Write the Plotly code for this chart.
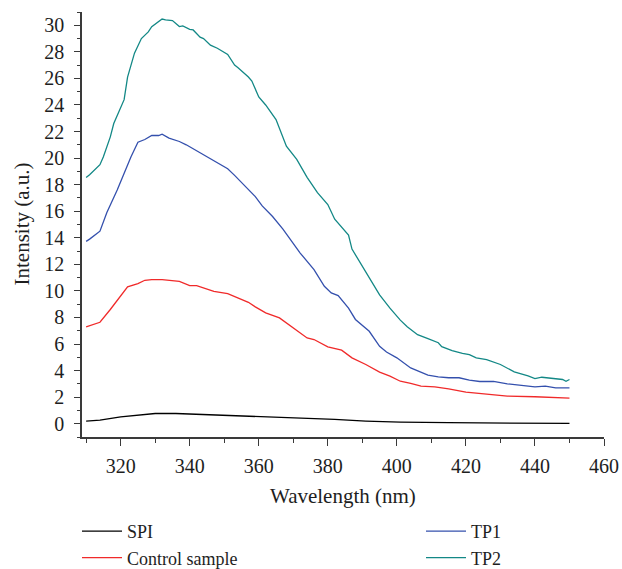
import plotly.graph_objects as go

# Wavelength (nm) and intensity (a.u.)
spi_x = [310, 314, 320, 326, 330, 336, 343, 353, 360, 370, 378, 382, 391, 401, 415, 430, 450]
spi_y = [0.20, 0.27, 0.52, 0.70, 0.77, 0.77, 0.70, 0.62, 0.57, 0.45, 0.37, 0.32, 0.20, 0.12, 0.08, 0.03, 0.02]

ctrl_x = [310, 314, 317, 320, 322, 325, 327, 329, 332, 337, 340, 342, 345, 347, 351, 354, 357, 359, 362, 366,
          370, 372, 374, 376, 380, 384, 387, 391, 395, 398, 401, 404, 407, 411, 415, 420, 426, 432, 440, 445, 450]
ctrl_y = [7.30, 7.64, 8.60, 9.60, 10.30, 10.55, 10.80, 10.85, 10.85, 10.72, 10.40, 10.40, 10.15, 9.97, 9.80,
          9.47, 9.14, 8.80, 8.35, 7.97, 7.20, 6.84, 6.46, 6.34, 5.79, 5.54, 4.96, 4.46, 3.88, 3.58, 3.20, 3.03,
          2.83, 2.78, 2.63, 2.38, 2.23, 2.08, 2.03, 1.98, 1.93]

tp1_x = [310, 311, 314, 316, 319, 321, 323, 325, 327, 329, 331, 332, 334, 337, 339, 343, 345, 348, 351, 353,
         356, 359, 361, 364, 367, 370, 372, 376, 379, 381, 383, 386, 388, 392, 395, 397, 400, 404, 406, 409,
         412, 415, 418, 421, 424, 428, 432, 436, 440, 443, 446, 450]
tp1_y = [13.73, 13.90, 14.50, 15.90, 17.60, 18.90, 20.10, 21.20, 21.40, 21.70, 21.70, 21.80, 21.50, 21.25,
         21.00, 20.40, 20.10, 19.60, 19.20, 18.70, 17.90, 17.10, 16.40, 15.60, 14.65, 13.60, 12.85, 11.60,
         10.35, 9.85, 9.65, 8.70, 7.85, 6.96, 5.83, 5.40, 4.96, 4.20, 3.96, 3.66, 3.53, 3.46, 3.46, 3.28,
         3.18, 3.18, 3.00, 2.88, 2.78, 2.83, 2.70, 2.70]

tp2_x = [310, 311, 314, 315, 317, 318, 321, 322, 324, 326, 328, 329, 332, 333, 335, 337, 338, 340, 341, 343,
         344, 346, 348, 351, 353, 354, 357, 358, 360, 362, 365, 368, 371, 374, 377, 380, 382, 386, 387, 390,
         393, 395, 398, 401, 403, 406, 409, 412, 413, 416, 419, 421, 423, 426, 430, 434, 438, 440, 442, 445,
         448, 449, 450]
tp2_y = [18.54, 18.74, 19.50, 20.10, 21.60, 22.60, 24.40, 26.10, 27.90, 29.00, 29.50, 29.90, 30.47, 30.40,
         30.35, 29.90, 29.95, 29.70, 29.65, 29.10, 29.00, 28.50, 28.27, 27.80, 27.00, 26.80, 26.10, 25.80,
         24.60, 24.00, 22.90, 20.90, 19.90, 18.55, 17.40, 16.50, 15.40, 14.20, 13.15, 11.85, 10.60, 9.70,
         8.70, 7.80, 7.30, 6.70, 6.40, 6.10, 5.80, 5.50, 5.30, 5.20, 4.96, 4.83, 4.46, 3.90, 3.60, 3.40,
         3.50, 3.40, 3.33, 3.20, 3.33]

series = [
    ("SPI", spi_x, spi_y, "#000000", "legend"),
    ("Control sample", ctrl_x, ctrl_y, "#f02a2a", "legend"),
    ("TP1", tp1_x, tp1_y, "#3450ad", "legend2"),
    ("TP2", tp2_x, tp2_y, "#138886", "legend2"),
]

x_ticks = [320, 340, 360, 380, 400, 420, 440, 460]
y_ticks = list(range(0, 31, 2))

FONT = "Liberation Serif"
AXIS_COLOR = "#3a3a3a"
TEXT_COLOR = "#1e1e1e"
TICK_FS = 20
TITLE_FS = 21
LEG_FS = 18

W, H = 622, 569
L, R, T, B = 82, 18, 12, 132
PLOT_W, PLOT_H = W - L - R, H - T - B

fig = go.Figure()
for name, xs, ys, color, leg in series:
    fig.add_trace(go.Scatter(x=xs, y=ys, mode="lines", name=name,
                             line=dict(color=color, width=1.3), legend=leg))

leg_common = dict(orientation="v", yanchor="top", xanchor="left", itemwidth=40,
                  font=dict(family=FONT, size=LEG_FS, color=TEXT_COLOR),
                  bgcolor="rgba(0,0,0,0)", traceorder="normal")

fig.update_layout(
    width=W, height=H,
    margin=dict(l=L, r=R, t=T, b=B, autoexpand=False),
    paper_bgcolor="white", plot_bgcolor="white",
    font=dict(family=FONT, size=TICK_FS, color=TEXT_COLOR),
    showlegend=True,
    legend=dict(x=(77 - L) / PLOT_W, y=-(513 - 437) / PLOT_H, **leg_common),
    legend2=dict(x=(421 - L) / PLOT_W, y=-(513 - 437) / PLOT_H, **leg_common),
    xaxis=dict(range=[308.8, 460], tickvals=x_ticks, showgrid=False, zeroline=False,
               showline=True, linecolor=AXIS_COLOR, linewidth=1.5,
               ticks="outside", ticklen=7, tickwidth=1.3, tickcolor=AXIS_COLOR,
               ticklabelstandoff=3, ticklabeloverflow="allow",
               minor=dict(dtick=10, tick0=310, ticks="outside", ticklen=4, tickcolor=AXIS_COLOR, tickwidth=1.2),
               tickfont=dict(family=FONT, size=TICK_FS, color=TEXT_COLOR)),
    yaxis=dict(range=[-1, 31], tickvals=y_ticks, showgrid=False, zeroline=False,
               showline=True, linecolor=AXIS_COLOR, linewidth=1.5,
               ticks="outside", ticklen=6, tickwidth=1.3, tickcolor=AXIS_COLOR,
               ticklabelstandoff=6,
               minor=dict(dtick=1, tick0=0, ticks="outside", ticklen=3.5, tickcolor=AXIS_COLOR, tickwidth=1.2),
               tickfont=dict(family=FONT, size=TICK_FS, color=TEXT_COLOR)),
    annotations=[
        dict(text="Wavelength (nm)", xref="paper", yref="paper", x=0.5, y=-(496 - 437) / PLOT_H,
             xanchor="center", yanchor="middle", showarrow=False,
             font=dict(family=FONT, size=TITLE_FS, color=TEXT_COLOR)),
        dict(text="Intensity (a.u.)", xref="paper", yref="paper", x=-(L - 21) / PLOT_W, y=0.5,
             xanchor="center", yanchor="middle", textangle=-90, showarrow=False,
             font=dict(family=FONT, size=TITLE_FS, color=TEXT_COLOR)),
    ],
)

fig.write_html("out.html", config={"displayModeBar": False},
               post_script="document.body.style.margin='0';document.body.style.overflow='hidden';")
